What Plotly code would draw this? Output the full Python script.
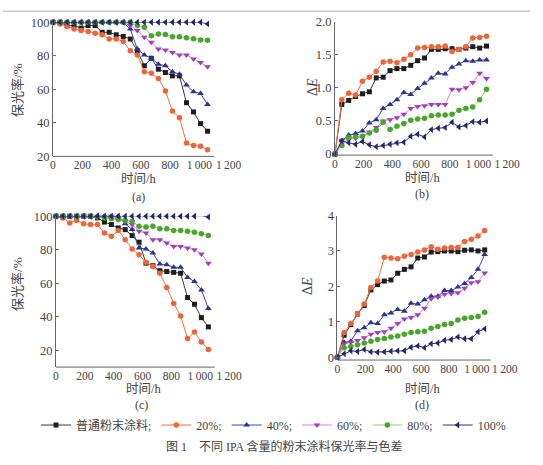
import plotly.graph_objects as go

W, H = 543, 465

# ---------------- data ----------------
hours = [0, 48, 96, 144, 192, 240, 288, 336, 384, 432, 480, 528, 576, 624,
         672, 720, 768, 816, 864, 912, 960, 1008, 1056]

series_names = ["普通粉末涂料;", "20%;", "40%;", "60%;", "80%;", "100%"]

# (a) gloss retention
a_std = [100, 100, 98, 98, 96.5, 98, 98, 94, 94, 92.5, 91.5, 90, 83, 74, 78.5, 72, 70, 68, 68, 52, 46.5, 39.5, 35]
a_20 = [100, 99, 97.5, 96, 95, 94.5, 93.5, 92.5, 90, 90, 88.5, 83, 80.5, 70.5, 69.5, 66.5, 59, 47, 43, 28, 26.5, 26, 24]
a_40 = [100, 100, 100, 100, 100, 100, 100, 100, 100, 100, 100, 96, 84, 80.5, 78.5, 75, 74, 70.5, 69, 62.5, 58.5, 57.5, 51]
a_60 = [100, 100, 100, 100, 100, 100, 100, 100, 100, 100, 100, 98, 95, 91, 88, 84, 83.5, 82, 80.5, 80.5, 78, 76, 73.5]
a_80 = [100, 100, 100, 100, 100, 100, 100, 100, 100, 100, 100, 100, 98, 97, 92, 93, 92.7, 91.3, 91.3, 90.8, 90.2, 89.4, 89.2]
a_100 = [100, 100, 100, 100, 100, 100, 100, 100, 100, 100, 100, 100, 100, 100, 100, 100, 100, 100, 100, 100, 100, 100, 99]

# (b) colour difference
b_std = [0, 0.75, 0.81, 0.87, 0.91, 0.94, 1.15, 1.16, 1.26, 1.29, 1.29, 1.34, 1.41, 1.45, 1.58, 1.58, 1.59, 1.59, 1.58, 1.60, 1.62, 1.60, 1.63]
b_20 = [0, 0.82, 0.92, 0.89, 1.10, 1.16, 1.25, 1.39, 1.40, 1.38, 1.43, 1.50, 1.60, 1.61, 1.62, 1.62, 1.63, 1.55, 1.58, 1.62, 1.75, 1.76, 1.78]
b_40 = [0, 0.20, 0.29, 0.31, 0.35, 0.47, 0.52, 0.69, 0.75, 0.82, 0.93, 0.90, 0.99, 1.07, 1.15, 1.22, 1.21, 1.31, 1.36, 1.41, 1.40, 1.42, 1.42]
b_60 = [0, 0.21, 0.22, 0.24, 0.27, 0.33, 0.40, 0.50, 0.52, 0.55, 0.60, 0.69, 0.72, 0.73, 0.75, 0.75, 0.75, 0.98, 0.97, 1.00, 1.08, 1.22, 1.14]
b_80 = [0, 0.13, 0.25, 0.26, 0.27, 0.32, 0.36, 0.48, 0.37, 0.42, 0.46, 0.51, 0.53, 0.54, 0.58, 0.59, 0.59, 0.60, 0.66, 0.69, 0.71, 0.82, 0.98]
b_100 = [0, 0.20, 0.17, 0.15, 0.19, 0.14, 0.11, 0.13, 0.15, 0.17, 0.18, 0.27, 0.30, 0.26, 0.37, 0.39, 0.40, 0.48, 0.41, 0.43, 0.49, 0.48, 0.50]

# (c) gloss retention
c_std = [100, 100, 100, 100, 100, 100, 99, 96.5, 95, 93, 92, 88.5, 84.5, 72, 70.5, 67.5, 67, 66.5, 66, 51.5, 47.5, 39.5, 34]
c_20 = [100, 99, 96, 97.5, 95.5, 95, 95, 90, 88, 91.5, 86, 80.5, 77, 72.5, 70, 66, 57.5, 48, 40.5, 27, 31, 25, 20.5]
c_40 = [100, 100, 100, 100, 100, 100, 100, 100, 100, 100, 95.5, 92, 81, 80.5, 78, 71.5, 71, 69.5, 69.5, 63.5, 61, 56, 45]
c_60 = [100, 100, 100, 100, 100, 100, 100, 100, 100, 98, 97, 95, 91, 90, 86, 86, 84, 82, 82, 81, 80, 77.5, 72]
c_80 = [100, 100, 100, 100, 100, 100, 99.5, 99, 98.5, 98, 97.5, 97, 94, 93.5, 94, 92.5, 92.5, 91.5, 91.5, 91, 90.5, 89.5, 88.5]
c_100 = [100, 100, 100, 100, 100, 100, 100, 100, 100, 100, 100, 100, 100, 100, 100, 100, 100, 100, 100, 100, 100, 100.3, 99.5]

# (d) colour difference
d_std = [0, 0.62, 0.92, 1.22, 1.46, 1.90, 2.05, 2.15, 2.18, 2.37, 2.48, 2.55, 2.80, 2.83, 2.97, 2.98, 3.00, 3.00, 2.98, 3.02, 3.03, 3.00, 3.03]
d_20 = [0, 0.70, 0.95, 1.22, 1.50, 1.97, 2.15, 2.82, 2.80, 2.78, 2.85, 2.90, 2.97, 3.03, 3.12, 3.05, 3.08, 3.10, 3.10, 3.27, 3.33, 3.42, 3.58]
d_40 = [0, 0.42, 0.45, 0.75, 0.83, 0.97, 0.95, 1.20, 1.25, 1.35, 1.30, 1.52, 1.50, 1.62, 1.72, 1.72, 1.88, 1.88, 1.98, 2.08, 2.25, 2.48, 2.90]
d_60 = [0, 0.38, 0.42, 0.47, 0.55, 0.65, 0.70, 0.72, 0.82, 0.95, 1.08, 1.12, 1.20, 1.38, 1.65, 1.70, 1.78, 1.80, 1.82, 1.95, 2.10, 2.13, 2.38]
d_80 = [0, 0.27, 0.30, 0.35, 0.40, 0.45, 0.50, 0.53, 0.57, 0.60, 0.65, 0.70, 0.72, 0.73, 0.82, 0.87, 0.92, 0.95, 1.05, 1.10, 1.12, 1.15, 1.27]
d_100 = [0, 0.10, 0.18, 0.16, 0.22, 0.15, 0.14, 0.15, 0.17, 0.18, 0.18, 0.28, 0.32, 0.27, 0.38, 0.40, 0.48, 0.50, 0.57, 0.52, 0.52, 0.72, 0.80]

x_tickvals = [0, 200, 400, 600, 800, 1000, 1200]
x_ticktext = ["0", "200", "400", "600", "800", "1\u2009000", "1\u2009200"]
gloss_ticks = [20, 40, 60, 80, 100]
de_ticks_b = [0, 0.5, 1.0, 1.5, 2.0]
de_ticktext_b = ["0", "0.5", "1.0", "1.5", "2.0"]
de_ticks_d = [0, 1, 2, 3, 4]

# ---------------- styles ----------------
styles = [
    dict(line="#3a3a3a", marker="#1e1e1e", symbol="square", size=5),
    dict(line="#f2703f", marker="#f0643a", symbol="circle", size=5.5),
    dict(line="#3b48a8", marker="#2b3590", symbol="triangle-up", size=6),
    dict(line="#d488e0", marker="#a240b8", symbol="triangle-down", size=6),
    dict(line="#96d46a", marker="#4aa52c", symbol="circle", size=5.5),
    dict(line="#2c2f78", marker="#22286a", symbol="triangle-left", size=6),
]

SERIF = "Liberation Serif, Noto Sans CJK SC"
TXT = "#444444"

def fx(px):
    return px / W

def fy(py):
    return 1 - py / H

panels = [
    dict(data=[a_std, a_20, a_40, a_60, a_80, a_100], x0=51.5, x1=232.5,
         yr=[20, 100], ylo=154, yhi=15.7, tv=gloss_ticks, tt=[str(v) for v in gloss_ticks]),
    dict(data=[b_std, b_20, b_40, b_60, b_80, b_100], x0=342, x1=519.5,
         yr=[-0.015, 2.0], ylo=152.7, yhi=15, tv=de_ticks_b, tt=de_ticktext_b),
    dict(data=[c_std, c_20, c_40, c_60, c_80, c_100], x0=54.5, x1=233,
         yr=[10, 100], ylo=371.3, yhi=215.7, tv=gloss_ticks, tt=[str(v) for v in gloss_ticks]),
    dict(data=[d_std, d_20, d_40, d_60, d_80, d_100], x0=344.6, x1=517,
         yr=[-0.08, 4], ylo=364, yhi=215, tv=de_ticks_d, tt=[str(v) for v in de_ticks_d]),
]

fig = go.Figure()
layout = {}
shapes = []

for i, p in enumerate(panels):
    k = "" if i == 0 else str(i + 1)
    xa, ya = "x" + k, "y" + k
    for j, ser in enumerate(p["data"]):
        st = styles[j]
        fig.add_trace(go.Scatter(
            x=hours, y=ser, xaxis=xa, yaxis=ya, mode="lines+markers",
            name=series_names[j], legendgroup=series_names[j], showlegend=(i == 0),
            line=dict(color=st["line"], width=1),
            marker=dict(color=st["marker"], symbol=st["symbol"], size=st["size"],
                        line=dict(width=0)),
            cliponaxis=False,
        ))
    layout["xaxis" + k] = dict(
        domain=[fx(p["x0"]), fx(p["x1"])], range=[0, 1200], anchor=ya,
        tickvals=x_tickvals, ticktext=x_ticktext, showline=False, ticks="",
        tickangle=0, showgrid=False, zeroline=False,
        tickfont=dict(family=SERIF, size=11.5, color=TXT),
    )
    layout["yaxis" + k] = dict(
        domain=[fy(p["ylo"]), fy(p["yhi"])], range=p["yr"], anchor=xa,
        tickvals=p["tv"], ticktext=p["tt"], showline=True, linecolor="#666666",
        linewidth=1, ticks="inside", ticklen=3, tickcolor="#666666",
        tickangle=0, showgrid=False, zeroline=False,
        tickfont=dict(family=SERIF, size=12.5, color=TXT),
    )
    shapes.append(dict(type="line", xref=xa, yref=ya + " domain", x0=0, x1=1100,
                       y0=0, y1=0, line=dict(color="#666666", width=1)))

# top rule
shapes.append(dict(type="line", xref="paper", yref="paper", x0=0, x1=1,
                   y0=fy(4.5), y1=fy(4.5), line=dict(color="#c8c8c8", width=1.5)))

annotations = []

def ann(text, px, py, size=13, angle=0, family=SERIF):
    annotations.append(dict(text=text, x=fx(px), y=fy(py), xref="paper", yref="paper",
                            showarrow=False, textangle=angle, xanchor="center",
                            yanchor="middle", font=dict(family=family, size=size, color=TXT)))

ann("保光率/%", 15, 86, size=13, angle=-90)
ann("保光率/%", 15, 286, size=13, angle=-90)
ann("Δ<i>E</i>", 319, 83, size=14, angle=-90)
ann("Δ<i>E</i>", 314, 288, size=14, angle=-90)
ann("时间/h", 140, 177, size=12.5)
ann("时间/h", 432, 176, size=12.5)
ann("时间/h", 145, 394, size=12.5)
ann("时间/h", 432, 394, size=12.5)
ann("(a)", 140, 196, size=12)
ann("(b)", 432, 193, size=12)
ann("(c)", 143, 410, size=12)
ann("(d)", 432, 410, size=12)
ann("图 1　不同 IPA 含量的粉末涂料保光率与色差", 290, 453, size=12)

fig.update_layout(
    width=W, height=H, margin=dict(l=0, r=0, t=0, b=0),
    paper_bgcolor="white", plot_bgcolor="white",
    showlegend=True,
    legend=dict(orientation="h", x=fx(34), y=fy(431), xanchor="left", yanchor="middle",
                font=dict(family=SERIF, size=12, color=TXT), itemwidth=30,
                tracegroupgap=0, bgcolor="rgba(0,0,0,0)"),
    shapes=shapes, annotations=annotations,
    **layout,
)

fig.write_html("out.html")
